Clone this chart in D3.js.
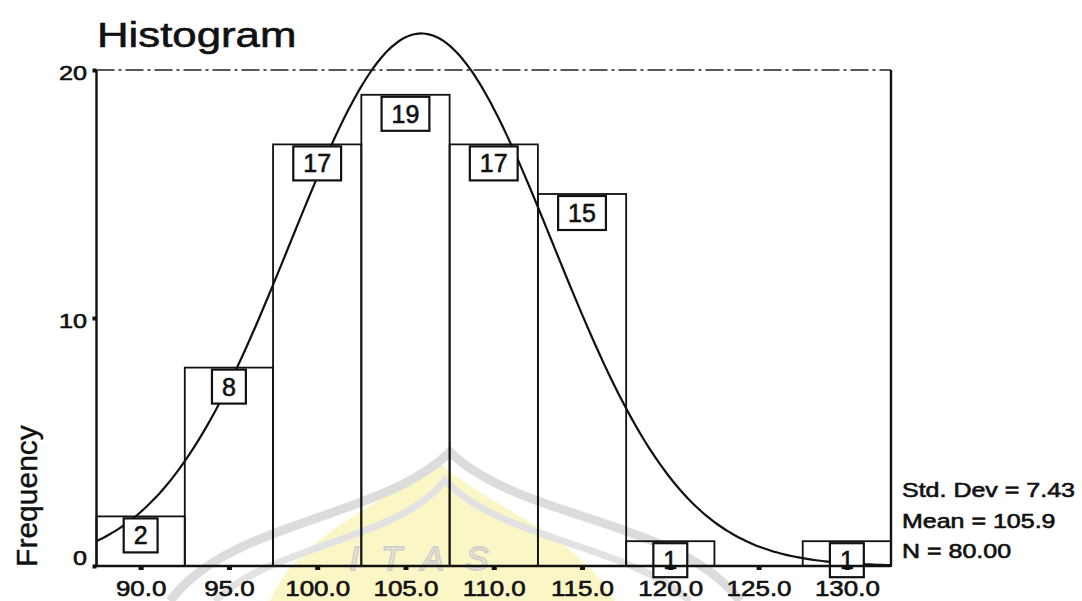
<!DOCTYPE html>
<html>
<head>
<meta charset="utf-8">
<script src="https://cdn.jsdelivr.net/npm/d3@7"></script>
<style>
  html, body { margin: 0; padding: 0; background: #fff; }
  text { font-family: "Liberation Sans", Arial, sans-serif; fill: #111; }
  .ink { stroke: #111; stroke-width: 0.6px; }
</style>
</head>
<body>
<svg id="chart" width="1082" height="601"></svg>
<script>
// ---- data ----
const binCenters = [90, 95, 100, 105, 110, 115, 120, 125, 130];
const counts = [2, 8, 17, 19, 17, 15, 1, 0, 1];
const binWidth = 5;
const yTicks = [0, 10, 20];
const xTickLabels = ["90.0", "95.0", "100.0", "105.0", "110.0", "115.0", "120.0", "125.0", "130.0"];
const stdDev = 7.43;
const mean = 105.9;
const nTotal = 80;
const statLines = ["Std. Dev = 7.43", "Mean = 105.9", "N = 80.00"];
const titleText = "Histogram";
const yLabel = "Frequency";

// ---- layout ----
const svg = d3.select("#chart");
const x = d3.scaleLinear().domain([87.5, 132.5]).range([96.5, 891]);
const y = d3.scaleLinear().domain([0, 20]).range([566, 70]);

// ---- watermark (faint scan background) ----
const wm = svg.append("g").attr("class", "watermark");
wm.append("path")
  .attr("d", "M 270,601 C 300,530 390,505 435,458 C 480,505 575,530 615,601 Z")
  .attr("fill", "#fbf6c6");
wm.append("path")
  .attr("d", "M 170,601 C 230,520 380,520 450,452 C 520,520 680,520 740,601")
  .attr("fill", "none").attr("stroke", "#dcdcdc").attr("stroke-width", 9);
wm.append("path")
  .attr("d", "M 215,601 C 270,545 400,540 445,480 C 500,540 630,545 690,601")
  .attr("fill", "none").attr("stroke", "#e2e2e2").attr("stroke-width", 7);
wm.append("text")
  .attr("x", 430).attr("y", 570).attr("text-anchor", "middle")
  .style("font-size", "34px").style("font-style", "italic")
  .style("fill", "none").style("stroke", "#cfcfcf").style("stroke-width", 1.8)
  .style("letter-spacing", "22px")
  .text("ITAS");

// ---- bars ----
const data = binCenters.map((c, i) => ({ c, n: counts[i] })).filter(d => d.n > 0);
svg.append("g").selectAll("rect").data(data).join("rect")
  .attr("x", d => x(d.c - binWidth / 2))
  .attr("width", d => x(d.c + binWidth / 2) - x(d.c - binWidth / 2))
  .attr("y", d => y(d.n))
  .attr("height", d => y(0) - y(d.n))
  .attr("fill", "none")
  .attr("stroke", "#111")
  .attr("stroke-width", 1.8);

// ---- normal curve from mean / sd / N ----
const peakScale = nTotal * binWidth / (stdDev * Math.sqrt(2 * Math.PI));
const curveXs = d3.range(87.5, 132.5001, 0.25);
const line = d3.line()
  .x(v => x(v))
  .y(v => y(peakScale * Math.exp(-0.5 * Math.pow((v - mean) / stdDev, 2))))
  .curve(d3.curveBasis);
svg.append("path")
  .datum(curveXs)
  .attr("d", line)
  .attr("fill", "none")
  .attr("stroke", "#111")
  .attr("stroke-width", 2.2);

// ---- count label boxes ----
const lbl = svg.append("g").selectAll("g").data(data).join("g")
  .attr("transform", d => `translate(${x(d.c)},${y(d.n) + 2})`);
lbl.each(function (d) {
  const g = d3.select(this);
  const t = g.append("text")
    .attr("class", "ink")
    .attr("text-anchor", "middle")
    .attr("y", 26)
    .style("font-size", "25px")
    .text(d.n);
  const w = t.node().getComputedTextLength() + 20;
  g.insert("rect", "text")
    .attr("x", -w / 2).attr("y", 0)
    .attr("width", w).attr("height", 34)
    .attr("fill", "#fff")
    .attr("stroke", "#111")
    .attr("stroke-width", 2.2);
});

// ---- frame ----
const frame = svg.append("g").attr("stroke", "#111").attr("fill", "none");
frame.append("line").attr("x1", x(87.5)).attr("x2", x(87.5)).attr("y1", y(20)).attr("y2", y(0)).attr("stroke-width", 2.4);
frame.append("line").attr("x1", x(87.5) - 2).attr("x2", x(132.5)).attr("y1", y(0)).attr("y2", y(0)).attr("stroke-width", 2.4);
frame.append("line").attr("x1", x(132.5)).attr("x2", x(132.5)).attr("y1", y(20)).attr("y2", y(0)).attr("stroke-width", 2.4);
frame.append("line").attr("x1", x(87.5)).attr("x2", x(132.5)).attr("y1", y(20)).attr("y2", y(20))
  .attr("stroke-width", 1.5).attr("stroke-dasharray", "18,4,3,4").attr("stroke", "#222");

// ---- x axis ----
const xAxis = d3.axisBottom(x)
  .tickValues(binCenters)
  .tickFormat((d, i) => xTickLabels[i])
  .tickSize(4)
  .tickPadding(0);
const gx = svg.append("g").attr("transform", `translate(0,${y(0)})`).call(xAxis);
gx.select(".domain").remove();
gx.selectAll(".tick line").attr("stroke", "#111").attr("stroke-width", 5);
gx.selectAll(".tick text")
  .attr("class", "ink")
  .attr("y", 30).attr("dy", null)
  .attr("transform", "scale(1.18,1)")
  .style("font-size", "22px")
  .style("font-family", "'Liberation Sans', Arial, sans-serif")
  .attr("fill", "#111");

// ---- y axis ----
const yAxis = d3.axisLeft(y).tickValues(yTicks).tickSize(4).tickPadding(0);
const gy = svg.append("g").attr("transform", `translate(${x(87.5)},0)`).call(yAxis);
gy.select(".domain").remove();
gy.selectAll(".tick line").attr("stroke", "#111").attr("stroke-width", 4);
gy.selectAll(".tick text")
  .attr("class", "ink")
  .attr("x", -8).attr("dy", null)
  .attr("y", d => d === 0 ? -2 : 9)
  .attr("transform", "scale(1.2,1)")
  .style("font-size", "21px")
  .style("font-family", "'Liberation Sans', Arial, sans-serif")
  .attr("fill", "#111");

// ---- title ----
svg.append("text")
  .attr("class", "ink")
  .attr("transform", "translate(97,47) scale(1.25,1)")
  .style("font-size", "35px")
  .text(titleText);

// ---- y label ----
svg.append("text")
  .attr("class", "ink")
  .attr("transform", "translate(37,496) rotate(-90)")
  .attr("text-anchor", "middle")
  .style("font-size", "30px")
  .style("stroke-width", "0.4px")
  .text(yLabel);

// ---- stats ----
const baselines = [497, 528, 558];
statLines.forEach((s, i) => {
  svg.append("text")
    .attr("class", "ink")
    .attr("transform", `translate(902,${baselines[i]}) scale(1.25,1)`)
    .style("font-size", "20px")
    .text(s);
});
</script>
</body>
</html>
